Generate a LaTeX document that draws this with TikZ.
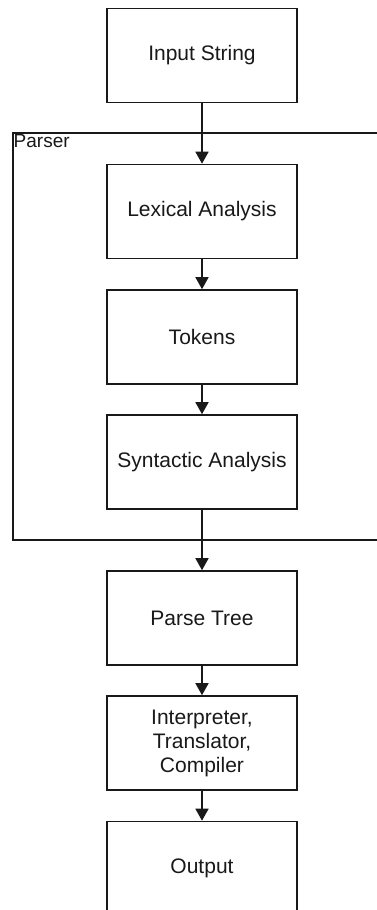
\documentclass[tikz,border=0pt]{standalone}
\usepackage{fontspec}
\setmainfont{Liberation Sans}
\usetikzlibrary{arrows.meta}
\begin{document}
\begin{tikzpicture}[x=1pt,y=-1pt,
  stagebox/.style={draw=black!90, line width=1.6pt, minimum width=190pt, minimum height=94pt,
    align=center, inner sep=0pt, font=\fontsize{21}{24}\selectfont, text=black!90},
  flow/.style={draw=black!90, line width=1.6pt, -{Triangle[length=12pt,width=13pt]}},
  frame/.style={draw=black!90, line width=1.2pt}]
\clip (0,0) rectangle (377,910);
\fill[white] (0,0) rectangle (377,910);
\draw[frame] (380,133) -- (13,133) -- (13,540) -- (380,540);
\node[anchor=north west, inner sep=0pt, font=\fontsize{19}{22}\selectfont, text=black!90] (parser) at (13.5,134.5) {Parser};
\node[stagebox] (input) at (202,55.5) {Input String};
\node[stagebox] (lex) at (202,211.5) {Lexical Analysis};
\node[stagebox] (tok) at (202,337) {Tokens};
\node[stagebox] (syn) at (202,462) {Syntactic Analysis};
\node[stagebox] (tree) at (202,618) {Parse Tree};
\node[stagebox] (interp) at (202,743) {Interpreter,\\Translator,\\Compiler};
\node[stagebox] (out) at (202,868.5) {Output};
\draw[flow] (input) -- (lex);
\draw[flow] (lex) -- (tok);
\draw[flow] (tok) -- (syn);
\draw[flow] (syn) -- (tree);
\draw[flow] (tree) -- (interp);
\draw[flow] (interp) -- (out);
\end{tikzpicture}
\end{document}
